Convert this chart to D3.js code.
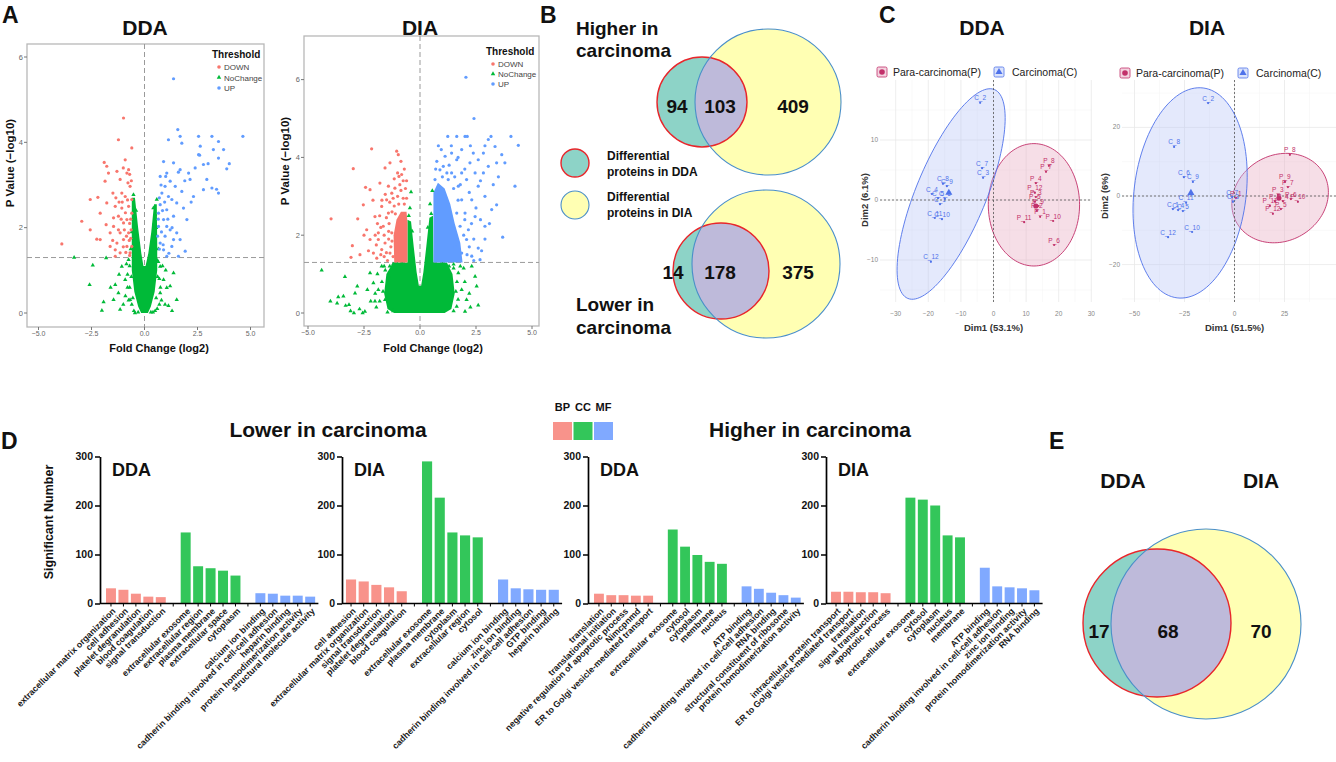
<!DOCTYPE html>
<html>
<head>
<meta charset="utf-8">
<script src="https://cdn.jsdelivr.net/npm/d3@7"></script>
<style>
body { margin: 0; background: #fff; }
svg { font-family: "Liberation Sans", Arial, sans-serif; }
</style>
</head>
<body>
<svg id="fig" width="1336" height="762"></svg>
<script>
// ---------- panel A : volcano data (fold change log2, -log10 p) ----------
const ddaDown = [[-3.9,1.62],[-2.96,2.15],[-2.56,2.66],[-2.56,1.95],[-2.25,1.73],[-2.09,1.72],[-2.2,2.71],[-1.9,3.53],[-1.78,3.44],[-1.86,3.09],[-1.7,3.28],[-2.09,2.34],[-1.78,2.58],[-1.81,2.07],[-1.62,1.88],[-1.62,1.56],[-1.38,1.33],[-1.49,2.81],[-1.3,3.32],[-1.23,4.06],[-0.99,4.57],[-0.91,3.59],[-0.75,3.36],[-0.6,3.87],[-1.15,3.13],[-1.38,2.5],[-1.23,2.27],[-1.46,2.03],[-1.15,1.88],[-0.99,1.72],[-0.83,1.56],[-1.15,1.41],[-0.68,1.41],[-0.91,2.73],[-0.68,2.97],[-0.75,2.5],[-1.07,2.46],[-0.83,2.19],[-0.63,1.95],[-1.3,1.64],[-0.75,1.88],[-0.6,2.34],[-1.07,2.81],[-1.46,2.23],[-0.6,1.56],[-0.99,2.11],[-1.23,1.95],[-0.83,3.28],[-0.6,2.66],[-1.38,1.48],[-0.7,2.1],[-0.9,2.35],[-1.0,1.55],[-0.72,1.7],[-0.65,2.2],[-0.8,2.65],[-1.1,2.2],[-0.95,1.95],[-0.7,1.35],[-0.88,1.42],[-1.05,2.6],[-0.62,3.1],[-0.7,3.25],[-1.2,2.6],[-0.65,1.75],[-0.85,1.8],[-1.35,2.7],[-1.5,1.7],[-0.78,3.05],[-1.0,3.4]];
const ddaUp = [[1.37,5.49],[1.57,4.3],[1.68,4.14],[1.13,4.06],[1.76,3.98],[2.55,4.14],[3.18,4.14],[4.64,4.14],[2.63,3.91],[3.49,4.02],[3.73,3.83],[2.55,3.71],[3.25,3.83],[3.49,3.63],[3.88,3.38],[3.49,2.81],[3.18,2.93],[2.78,2.89],[2.31,2.73],[2.08,3.28],[1.68,3.36],[1.37,3.52],[0.9,3.55],[0.74,3.2],[1.05,3.28],[1.21,3.09],[0.97,2.97],[1.45,2.97],[1.76,2.85],[0.82,2.81],[1.13,2.73],[1.52,2.58],[0.74,2.54],[1.05,2.42],[1.37,2.27],[0.9,2.19],[0.66,2.03],[1.21,1.95],[1.52,1.88],[0.97,1.8],[0.74,1.64],[1.29,1.56],[1.68,1.72],[1.92,1.45],[1.05,1.33],[1.6,1.33],[2.0,2.19],[1.84,2.46],[2.15,3.13],[2.94,3.13],[2.39,3.4],[2.78,3.48],[0.9,1.48],[1.37,1.72],[0.66,2.34],[1.05,2.03],[1.29,2.66],[0.7,1.5],[0.8,1.9],[0.65,2.2],[0.85,2.4],[0.7,2.7],[0.95,2.6],[1.1,2.2],[0.88,1.6],[1.15,1.4],[0.62,1.8],[1.3,2.0],[0.78,3.0],[1.0,3.2],[1.6,3.3],[1.9,3.1],[2.6,3.7],[3.0,3.5],[3.4,2.9],[2.2,2.6],[4.0,3.5]];
const ddaNoChange = [[-3.32,1.3],[-2.44,1.12],[-2.59,0.66],[-2.01,0.06],[-1.93,0.26],[-1.81,1.29],[-1.38,0.66],[-1.23,0.47],[-0.91,0.78],[-1.07,1.09],[-0.75,1.25],[-0.68,0.31],[-1.46,0.31],[-1.15,0.08],[0.9,0.78],[1.05,0.59],[1.21,0.63],[0.97,0.2],[1.13,0.17],[0.74,1.09],[0.58,1.25],[1.52,0.31],[0.74,0.47],[1.37,0.94],[-0.52,2.77],[0.58,2.66],[0.42,2.46],[-0.8,0.9],[-0.7,0.6],[-0.9,0.4],[-0.6,0.2],[0.7,0.8],[0.8,0.3],[0.6,0.1],[-1.0,0.2],[-0.85,1.15],[0.85,1.1],[-0.6,1.9],[-0.55,2.2],[0.55,2.0],[0.5,2.3],[-0.45,0.0],[0.4,0.02],[1.3,0.05],[-1.6,0.6],[-1.2,0.9],[1.0,1.0],[-0.75,0.3],[-0.7,1.1],[-0.8,0.6],[0.75,0.6],[0.7,0.2],[0.65,1.2],[-0.5,0.05],[0.5,0.05],[-0.65,1.5],[0.65,1.5],[-0.4,2.4],[0.45,2.1],[-0.62,0.85],[0.62,0.85],[-0.55,0.35],[0.55,0.35],[-0.3,0.02],[0.3,0.02]];
// outline of the solid mass of overlapping NoChange points
const ddaNoChangeCore = [[-0.6,2.7],[-0.45,2.7],[-0.3,2.0],[-0.15,1.4],[-0.05,1.1],[0.05,1.1],[0.18,1.4],[0.32,1.9],[0.45,2.55],[0.58,2.55],[0.6,1.6],[0.6,1.0],[0.48,0.5],[0.3,0.15],[0.16,0],[-0.16,0],[-0.3,0.15],[-0.48,0.5],[-0.6,1.0],[-0.6,1.6]];

const diaDown = [[-2.16,4.22],[-2.98,3.71],[-3.97,2.42],[-3.02,1.73],[-3.08,1.43],[-2.78,2.42],[-2.43,3.23],[-2.23,3.17],[-2.53,2.78],[-2.68,1.5],[-2.38,2.14],[-2.23,1.89],[-2.01,2.48],[-1.86,2.06],[-2.08,1.54],[-1.79,3.34],[-1.56,3.73],[-1.34,3.86],[-1.04,4.16],[-0.97,4.07],[-0.85,3.9],[-0.94,3.51],[-0.82,3.56],[-1.41,3.26],[-1.26,3.08],[-1.12,3.21],[-1.49,2.91],[-1.71,2.74],[-1.64,2.23],[-1.71,1.63],[-1.93,1.41],[-1.41,2.57],[-1.86,1.89],[-1.56,1.8],[-1.26,2.06],[-1.34,1.54],[-1.45,1.35],[-1.6,2.0],[-1.35,2.85],[-1.2,2.95],[-1.0,3.0],[-0.75,2.95],[-0.65,3.2],[-0.9,3.3],[-1.15,2.75],[-1.5,2.45],[-1.75,2.2],[-1.95,1.75],[-2.3,1.6],[-2.5,2.0],[-1.4,1.9],[-1.3,1.7],[-1.38,2.3],[-1.8,2.5],[-2.1,2.9],[-0.7,3.7],[-1.25,2.6],[-1.4,2.1],[-1.5,1.55],[-1.6,1.45],[-1.2,1.45],[-1.25,1.85],[-1.1,2.55],[-0.95,2.8],[-0.7,2.8],[-0.6,2.95],[-0.85,3.15],[-1.0,3.6],[-1.15,3.45],[-0.6,3.4],[-1.7,2.9],[-1.9,2.3],[-1.75,1.5],[-2.0,2.0],[-1.55,3.05],[-0.75,3.4]];
const diaDownCore = [[-1.15,1.3],[-1.18,2.0],[-1.05,2.4],[-0.85,2.6],[-0.6,2.6],[-0.56,2.3],[-0.56,1.3]];
const diaUp = [[2.05,6.06],[2.41,5.0],[0.82,4.3],[1.24,4.54],[1.64,4.54],[2.01,4.54],[2.11,4.54],[3.17,4.54],[4.06,4.54],[4.39,4.31],[4.24,3.26],[3.69,1.95],[3.65,4.07],[3.42,3.86],[3.27,3.3],[3.42,2.78],[3.2,2.66],[2.9,2.23],[2.68,1.37],[2.6,1.67],[2.16,2.14],[2.46,2.48],[2.31,2.91],[2.6,3.26],[2.83,3.6],[3.05,3.77],[2.38,4.11],[1.86,4.2],[1.41,4.11],[1.64,3.94],[1.12,4.03],[1.04,3.77],[2.23,3.86],[2.6,3.94],[2.83,4.11],[2.46,3.6],[1.86,3.6],[2.08,3.43],[1.71,3.26],[1.86,2.91],[1.64,2.57],[2.01,2.57],[1.79,2.23],[2.08,1.89],[1.86,1.54],[2.31,1.46],[1.56,1.71],[1.41,3.6],[3.05,4.46],[3.35,4.28],[3.79,3.86],[2.9,3.0],[1.26,3.43],[0.89,3.68],[0.67,3.43],[1.95,2.0],[2.2,1.7],[2.4,1.9],[2.0,2.4],[2.3,2.3],[1.7,2.9],[1.5,3.2],[1.2,3.6],[1.0,3.5],[0.7,3.7],[0.75,3.9],[0.95,4.2],[1.3,3.8],[1.55,3.5],[1.8,3.3],[2.2,3.1],[2.5,2.7],[2.7,2.4],[2.1,1.5],[2.4,1.35],[2.75,1.6],[2.9,1.9],[3.1,2.3],[3.5,3.5],[2.7,3.4],[2.0,3.7],[1.7,4.0],[1.4,4.3],[2.25,4.3],[2.9,4.3]];
const diaUpCore = [[0.6,1.3],[0.6,3.1],[0.8,3.35],[1.1,3.2],[1.35,2.8],[1.55,2.3],[1.8,1.8],[1.9,1.3]];
const diaNoChange = [[-4.39,1.1],[-3.35,0.93],[-3.65,0.41],[-3.42,0.43],[-3.32,0.19],[-3.17,0.21],[-2.95,0],[-2.8,0.69],[-2.9,0.51],[-2.46,0.04],[-2.23,1.03],[-2.08,0.77],[-2.01,0.3],[-1.86,0.6],[-1.71,1.2],[-1.41,0.94],[-1.56,0.34],[-2.56,0],[2.53,0.69],[2.46,0.94],[2.31,1.2],[2.01,0.04],[2.08,0.34],[1.86,0.6],[1.71,1.03],[1.64,0.17],[-0.4,3.11],[0.55,3.14],[-1.9,1.0],[-2.0,0.5],[-1.95,0.15],[-2.2,0.3],[-2.35,0.6],[2.0,0.8],[2.2,0.5],[1.95,1.15],[2.25,0.15],[-1.2,1.25],[1.5,1.25],[-0.45,2.7],[0.45,2.8],[-2.7,0.1],[-3.1,0.05],[2.6,0.2],[-4.0,0.3],[-3.7,0.25],[-1.6,1.2],[1.8,1.2],[-1.7,0.8],[-1.8,0.3],[-1.55,1.1],[-1.35,1.2],[1.5,1.15],[1.65,0.8],[1.7,0.35],[1.5,0.05],[-1.45,0.02],[-1.2,0.05],[0.5,2.55],[-0.5,2.5],[-0.35,2.1],[0.35,2.2],[-0.8,1.25],[1.0,1.25],[1.3,1.2],[-1.0,1.25],[-1.65,0.55],[1.6,0.55]];
const diaNoChangeCore = [[-0.56,2.4],[-0.4,2.35],[-0.28,1.7],[-0.15,1.05],[-0.05,0.7],[0.05,0.7],[0.15,1.05],[0.28,1.7],[0.42,2.45],[0.58,2.5],[0.6,1.3],[1.2,1.3],[1.45,1.0],[1.55,0.5],[1.4,0.1],[1.1,0],[-1.15,0],[-1.45,0.1],[-1.6,0.5],[-1.5,1.0],[-1.2,1.3],[-0.56,1.3]];

const volcanoTicksX = [-5, -2.5, 0, 2.5, 5];
const volcanoTicksY = [0, 2, 4, 6];
const pThreshold = 1.3;
const thresholdNames = ["DOWN", "NoChange", "UP"];

// ---------- panel B / E : venn counts [only DDA, both, only DIA] ----------
const vennHigher = [94, 103, 409];
const vennLower = [14, 178, 375];
const vennGO = [17, 68, 70];

// ---------- panel C : PCA scores ----------
const ddaPara = [["P_8",17.0,5.7],["P_7",16.1,4.7],["P_4",13.0,2.8],["P_12",12.7,1.2],["P_3",13.0,0.5],["P_5",12.7,-0.3],["P_9",13.7,-1.0],["P_2",13.3,-1.8],["P_1",14.3,-2.8],["P_11",9.4,-3.7],["P_10",18.3,-3.5],["P_6",18.6,-7.5]];
const ddaCarc = [["C_2",-4.1,16.2],["C_7",-3.5,5.3],["C_3",-3.2,3.7],["C_9",-14.3,2.3],["C_8",-15.5,2.7],["C_4",-18.9,1.0],["C_5",-17.0,0.3],["C_6",-14.9,0.2],["C_1",-16.4,-0.7],["C_11",-18.0,-3.0],["C_10",-15.8,-3.2],["C_12",-19.2,-10.3]];
const ddaCentroids = [[13.0,-1.0],[-13.7,1.2]];
const diaPara = [["P_8",27.7,12.0],["P_9",25.2,4.1],["P_7",26.7,2.6],["P_3",21.7,0.3],["P_2",20.2,-1.5],["P_4",24.2,-1.5],["P_6",28.2,-0.9],["P_10",31.7,-1.7],["P_5",23.2,-3.8],["P_11",17.7,-2.9],["P_12",19.2,-5.2],["P_1",0.7,-0.6]];
const diaCarc = [["C_2",-13.2,27.1],["C_8",-30.2,14.3],["C_6",-25.3,5.5],["C_9",-20.8,4.1],["C_11",-24.2,-2.0],["C_1",-30.8,-3.8],["C_4",-28.2,-4.1],["C_5",-25.8,-4.4],["C_10",-21.2,-10.5],["C_12",-33.2,-12.0],["C_7",-1.2,-0.3],["C_3",-0.8,-1.7]];
const diaCentroids = [[22.2,-0.6],[-21.8,0.9]];
// confidence ellipses: centre, first and second semi-axis vectors (data units)
const ddaEllipses = [{c:[12.4,-0.8], a:[14,0], b:[0,10.2]}, {c:[-13,1], a:[13.3,17.4], b:[9.9,-2.25]}];
const diaEllipses = [{c:[22.8,-0.6], a:[22.6,6.15], b:[8.5,-11.5]}, {c:[-22.2,0.9], a:[6.5,30.6], b:[27.8,-2.0]}];
const groupNames = ["Para-carcinoma(P)", "Carcinoma(C)"];

// ---------- panel D : GO terms ----------
const goCategories = ["BP", "CC", "MF"];
const goTicks = [0, 100, 200, 300];
const lowerDdaTerms = ["extracellular matrix organization","cell adhesion","platelet degranulation","blood coagulation","signal transduction",
  "extracellular exosome","extracellular region","plasma membrane","extracellular space","cytoplasm",
  "calcium ion binding","cadherin binding involved in cell-cell adhesion","heparin binding","protein homodimerization activity","structural molecule activity"];
const lowerDdaCounts = [31,28,20,14,13, 145,76,72,67,57, 21,20,16,16,14];
const lowerDiaTerms = ["cell adhesion","extracellular matrix organization","signal transduction","platelet degranulation","blood coagulation",
  "extracellular exosome","plasma membrane","cytoplasm","extracellular region","cytosol",
  "calcium ion binding","zinc ion binding","cadherin binding involved in cell-cell adhesion","GTP binding","heparin binding"];
const lowerDiaCounts = [49,45,38,33,25, 290,216,145,139,135, 49,31,29,28,28];
const higherDdaTerms = ["translation","translational initiation","negative regulation of apoptotic process","Nimcpnmd","ER to Golgi vesicle-mediated transport",
  "extracellular exosome","cytosol","cytoplasm","membrane","nucleus",
  "ATP binding","cadherin binding involved in cell-cell adhesion","RNA binding","structural constituent of ribosome","protein homodimerization activity"];
const higherDdaCounts = [20,17,17,16,16, 151,116,99,85,81, 35,30,22,17,12];
const higherDiaTerms = ["intracellular protein transport","ER to Golgi vesicle-mediated transport","translation","signal transduction","apoptotic process",
  "extracellular exosome","cytosol","cytoplasm","nucleus","membrane",
  "ATP binding","cadherin binding involved in cell-cell adhesion","zinc ion binding","protein homodimerization activity","RNA binding"];
const higherDiaCounts = [24,24,23,23,21, 216,212,200,139,135, 73,35,33,31,27];

const RED = "#F8766D", GREEN = "#00BA38", BLUE = "#619CFF";
const goColors = ["#F8938B", "#33C65A", "#80A9FF"];
const PINK = "#c2306a", PBLUE = "#4f72ea";

const svg = d3.select("#fig");

function bold(sel, size){
    return sel.attr("font-weight", "bold").attr("font-size", size + "px").attr("fill", "#111");
}

function panelLetter(letter, x, y){
    bold(svg.append("text"), 23).attr("x", x).attr("y", y).text(letter);
}

// ---------------- volcano ----------------
function volcano(o){
    const g = svg.append("g");
    const x = d3.scaleLinear().domain([-5, 5]).range(o.xr);
    const y = d3.scaleLinear().domain([0, 6]).range(o.yr);
    const [bx0, by0, bx1, by1] = o.box;

    g.append("rect").attr("x", bx0).attr("y", by0).attr("width", bx1 - bx0).attr("height", by1 - by0)
        .attr("fill", "#fff").attr("stroke", "#b8b8b8").attr("stroke-width", 1.3);

    g.append("line").attr("x1", bx0).attr("x2", bx1).attr("y1", y(pThreshold)).attr("y2", y(pThreshold))
        .attr("stroke", "#9a9a9a").attr("stroke-dasharray", "5,3").attr("stroke-width", 1);
    g.append("line").attr("x1", x(0)).attr("x2", x(0)).attr("y1", by0).attr("y2", by1)
        .attr("stroke", "#9a9a9a").attr("stroke-dasharray", "5,3").attr("stroke-width", 1);

    const area = d3.line().x(d => x(d[0])).y(d => y(d[1])).curve(d3.curveLinearClosed);
    g.append("path").attr("d", area(o.ncCore)).attr("fill", GREEN);
    if (o.downCore) g.append("path").attr("d", area(o.downCore)).attr("fill", RED);
    if (o.upCore) g.append("path").attr("d", area(o.upCore)).attr("fill", BLUE);

    g.selectAll(null).data(o.nc).enter().append("path")
        .attr("d", d3.symbol(d3.symbolTriangle, 8))
        .attr("transform", d => `translate(${x(d[0])},${y(d[1])})`)
        .attr("fill", GREEN);
    g.selectAll(null).data(o.down).enter().append("circle")
        .attr("cx", d => x(d[0])).attr("cy", d => y(d[1])).attr("r", 1.6).attr("fill", RED);
    g.selectAll(null).data(o.up).enter().append("circle")
        .attr("cx", d => x(d[0])).attr("cy", d => y(d[1])).attr("r", 1.6).attr("fill", BLUE);

    volcanoTicksX.forEach(t => {
        g.append("line").attr("x1", x(t)).attr("x2", x(t)).attr("y1", by1).attr("y2", by1 + 3).attr("stroke", "#777");
        g.append("text").attr("x", x(t)).attr("y", by1 + 9).attr("text-anchor", "middle")
            .attr("font-size", "7px").attr("fill", "#666").text(t.toFixed(1).replace("-", "\u2212"));
    });
    volcanoTicksY.forEach(t => {
        g.append("line").attr("x1", bx0 - 3).attr("x2", bx0).attr("y1", y(t)).attr("y2", y(t)).attr("stroke", "#777");
        g.append("text").attr("x", bx0 - 4).attr("y", y(t) + 2.5).attr("text-anchor", "end")
            .attr("font-size", "7.5px").attr("fill", "#666").text(t);
    });

    bold(g.append("text"), 21).attr("x", o.titleX).attr("y", 35).attr("text-anchor", "middle").text(o.title);
    bold(g.append("text"), 11).attr("x", o.xLabelX).attr("y", 352).attr("text-anchor", "middle").text("Fold Change (log2)");
    bold(g.append("text"), 11.5).attr("transform", `translate(${o.yLabelX},${o.yLabelY}) rotate(-90)`)
        .attr("text-anchor", "middle").text("P Value (\u2212log10)");

    // legend
    const lx = o.legend[0], ly = o.legend[1];
    bold(g.append("text"), 10).attr("x", lx).attr("y", ly + 3.5).text("Threshold");
    const cols = [RED, GREEN, BLUE];
    thresholdNames.forEach((nm, i) => {
        const yy = ly + 13 + i * o.legendStep;
        if (i === 1) {
            g.append("path").attr("d", d3.symbol(d3.symbolTriangle, 9)).attr("transform", `translate(${lx + 7},${yy})`).attr("fill", cols[i]);
        } else {
            g.append("circle").attr("cx", lx + 7).attr("cy", yy).attr("r", 1.8).attr("fill", cols[i]);
        }
        g.append("text").attr("x", lx + 12).attr("y", yy + 3).attr("font-size", "8px").attr("fill", "#444").text(nm);
    });
}

// ---------------- venn ----------------
function venn(o){
    const g = svg.append("g");
    const clipId = "clip" + o.id;
    g.append("clipPath").attr("id", clipId).append("circle")
        .attr("cx", o.dia[0]).attr("cy", o.dia[1]).attr("r", o.dia[2]);
    g.append("circle").attr("cx", o.dia[0]).attr("cy", o.dia[1]).attr("r", o.dia[2]).attr("fill", "#ffffb3");
    g.append("circle").attr("cx", o.dda[0]).attr("cy", o.dda[1]).attr("r", o.dda[2]).attr("fill", "#8dd3c7");
    g.append("circle").attr("cx", o.dda[0]).attr("cy", o.dda[1]).attr("r", o.dda[2]).attr("fill", "#bebada")
        .attr("clip-path", `url(#${clipId})`);
    g.append("circle").attr("cx", o.dda[0]).attr("cy", o.dda[1]).attr("r", o.dda[2]).attr("fill", "none")
        .attr("stroke", "#e8262b").attr("stroke-width", 1.4);
    g.append("circle").attr("cx", o.dia[0]).attr("cy", o.dia[1]).attr("r", o.dia[2]).attr("fill", "none")
        .attr("stroke", "#4a8fc9").attr("stroke-width", 1.1);
    o.counts.forEach((c, i) => {
        bold(g.append("text"), 19).attr("x", o.labelX[i]).attr("y", o.labelY).attr("text-anchor", "middle").text(c);
    });
}

// ---------------- PCA ----------------
function pca(o){
    const g = svg.append("g");
    const x = d3.scaleLinear().domain(o.xd).range(o.xr);
    const y = d3.scaleLinear().domain(o.yd).range(o.yr);
    const [px0, py0, px1, py1] = o.panel;

    o.xMinor.forEach(t => g.append("line").attr("x1", x(t)).attr("x2", x(t)).attr("y1", py0).attr("y2", py1).attr("stroke", "#f2f2f2").attr("stroke-width", 0.5));
    o.yMinor.forEach(t => g.append("line").attr("x1", px0).attr("x2", px1).attr("y1", y(t)).attr("y2", y(t)).attr("stroke", "#f2f2f2").attr("stroke-width", 0.5));
    o.xTicks.forEach(t => g.append("line").attr("x1", x(t)).attr("x2", x(t)).attr("y1", py0).attr("y2", py1).attr("stroke", "#e8e8e8").attr("stroke-width", 0.8));
    o.yTicks.forEach(t => g.append("line").attr("x1", px0).attr("x2", px1).attr("y1", y(t)).attr("y2", y(t)).attr("stroke", "#e8e8e8").attr("stroke-width", 0.8));

    const cols = [PINK, PBLUE];
    const fills = ["#e7a9c0", "#b7c6f6"];
    const ell = d3.line().x(d => x(d[0])).y(d => y(d[1])).curve(d3.curveLinearClosed);
    o.ellipses.forEach((e, k) => {
        const pts = d3.range(0, 2 * Math.PI, Math.PI / 60).map(t =>
            [e.c[0] + Math.cos(t) * e.a[0] + Math.sin(t) * e.b[0], e.c[1] + Math.cos(t) * e.a[1] + Math.sin(t) * e.b[1]]);
        g.append("path").attr("d", ell(pts)).attr("fill", fills[k]).attr("fill-opacity", 0.38)
            .attr("stroke", cols[k]).attr("stroke-width", 0.9);
    });

    g.append("line").attr("x1", x(0)).attr("x2", x(0)).attr("y1", py0).attr("y2", py1).attr("stroke", "#555").attr("stroke-dasharray", "2,2").attr("stroke-width", 0.8);
    g.append("line").attr("x1", px0).attr("x2", px1).attr("y1", y(0)).attr("y2", y(0)).attr("stroke", "#555").attr("stroke-dasharray", "2,2").attr("stroke-width", 0.8);

    [o.para, o.carc].forEach((grp, k) => {
        g.selectAll(null).data(grp).enter().append("circle")
            .attr("cx", d => x(d[1])).attr("cy", d => y(d[2])).attr("r", 1.1).attr("fill", cols[k]);
        g.selectAll(null).data(grp).enter().append("text")
            .attr("x", d => x(d[1])).attr("y", d => y(d[2]) - 2.5).attr("text-anchor", "middle")
            .attr("font-size", "6.5px").attr("fill", cols[k]).text(d => d[0]);
    });
    g.append("circle").attr("cx", x(o.centroids[0][0])).attr("cy", y(o.centroids[0][1])).attr("r", 2.6).attr("fill", PINK);
    g.append("path").attr("d", d3.symbol(d3.symbolTriangle, 22))
        .attr("transform", `translate(${x(o.centroids[1][0])},${y(o.centroids[1][1])})`).attr("fill", PBLUE);

    o.xTicks.forEach(t => g.append("text").attr("x", x(t)).attr("y", 316).attr("text-anchor", "middle")
        .attr("font-size", "6.5px").attr("fill", "#888").text(String(t).replace("-", "\u2212")));
    o.yTicks.forEach(t => g.append("text").attr("x", px0 - 2).attr("y", y(t) + 2).attr("text-anchor", "end")
        .attr("font-size", "6.5px").attr("fill", "#888").text(String(t).replace("-", "\u2212")));

    bold(g.append("text"), 9.5).attr("x", x(0)).attr("y", 331).attr("text-anchor", "middle").attr("fill", "#333").text(o.xLabel);
    bold(g.append("text"), 9.5).attr("transform", `translate(${o.yLabelX},${y(0)}) rotate(-90)`).attr("text-anchor", "middle").attr("fill", "#333").text(o.yLabel);
    bold(g.append("text"), 21).attr("x", o.titleX).attr("y", 35).attr("text-anchor", "middle").text(o.title);

    // legend
    const [l1, l2, ly] = o.legend;
    g.append("rect").attr("x", l1 - 5).attr("y", ly - 5).attr("width", 10).attr("height", 10).attr("rx", 1.5)
        .attr("fill", "#f3d3df").attr("stroke", PINK).attr("stroke-width", 0.8);
    g.append("circle").attr("cx", l1).attr("cy", ly).attr("r", 2.8).attr("fill", PINK);
    g.append("text").attr("x", l1 + 11).attr("y", ly + 4).attr("font-size", "10.5px").attr("fill", "#222").text(groupNames[0]);
    g.append("rect").attr("x", l2 - 5).attr("y", ly - 5).attr("width", 10).attr("height", 10).attr("rx", 1.5)
        .attr("fill", "#dbe3fb").attr("stroke", PBLUE).attr("stroke-width", 0.8);
    g.append("path").attr("d", d3.symbol(d3.symbolTriangle, 22)).attr("transform", `translate(${l2},${ly})`).attr("fill", PBLUE);
    g.append("text").attr("x", l2 + 13).attr("y", ly + 4).attr("font-size", "10.5px").attr("fill", "#222").text(groupNames[1]);
}

// ---------------- GO bar chart ----------------
function goChart(o){
    const g = svg.append("g");
    const y = d3.scaleLinear().domain([0, 300]).range([603.5, 456.5]);
    const x = d3.scaleBand().domain(d3.range(17)).range([o.r0, o.r1]).paddingInner(0.2).paddingOuter(0.1);
    const slot = i => i + Math.floor(i / 5);

    g.selectAll(null).data(o.counts).enter().append("rect")
        .attr("x", (d, i) => x(slot(i))).attr("width", x.bandwidth())
        .attr("y", d => y(d)).attr("height", d => y(0) - y(d))
        .attr("fill", (d, i) => goColors[Math.floor(i / 5)]);

    const ax = g.append("g").attr("transform", `translate(${o.axisX},0)`)
        .call(d3.axisLeft(y).tickValues(goTicks).tickSize(5).tickSizeOuter(0).tickPadding(2));
    ax.select(".domain").attr("stroke-width", 1.7);
    ax.selectAll(".tick line").attr("stroke-width", 1.5);
    ax.selectAll(".tick text").attr("font-size", "10.5px").attr("font-weight", "bold").attr("fill", "#111")
        .attr("font-family", "Liberation Sans, Arial, sans-serif");

    g.append("line").attr("x1", o.axisX).attr("x2", o.r1 + 2).attr("y1", y(0)).attr("y2", y(0))
        .attr("stroke", "#000").attr("stroke-width", 1.7);
    g.selectAll(null).data(d3.range(17)).enter().append("line")
        .attr("x1", d => x(d) + x.bandwidth() / 2).attr("x2", d => x(d) + x.bandwidth() / 2)
        .attr("y1", y(0)).attr("y2", y(0) + 3).attr("stroke", "#000").attr("stroke-width", 1);

    g.selectAll(null).data(o.terms).enter().append("text")
        .attr("transform", (d, i) => `translate(${x(slot(i)) + x.bandwidth() / 2 + 3},${y(0) + 6}) rotate(-45)`)
        .attr("text-anchor", "end").attr("dy", "0.35em")
        .attr("font-size", "8.8px").attr("font-weight", "bold").attr("fill", "#1a1a1a")
        .text(d => d);

    bold(g.append("text"), 18).attr("x", o.axisX + 12).attr("y", 476).text(o.title);
}

// ================= draw =================
panelLetter("A", 2, 23);
volcano({xr: [38.5, 250.5], yr: [313, 57], box: [27, 44, 264, 327], title: "DDA", titleX: 145,
    xLabelX: 159, yLabelX: 14, yLabelY: 163, legend: [212, 54], legendStep: 10.5,
    down: ddaDown, up: ddaUp, nc: ddaNoChange, ncCore: ddaNoChangeCore});
volcano({xr: [308, 532], yr: [313, 79.6], box: [304, 36, 539, 326], title: "DIA", titleX: 420,
    xLabelX: 433, yLabelX: 289, yLabelY: 161, legend: [486, 51], legendStep: 10,
    down: diaDown, up: diaUp, nc: diaNoChange, ncCore: diaNoChangeCore, downCore: diaDownCore, upCore: diaUpCore});

panelLetter("B", 540, 23);
bold(svg.append("text"), 19).attr("x", 576).attr("y", 35).text("Higher in");
bold(svg.append("text"), 19).attr("x", 576).attr("y", 57).text("carcinoma");
venn({id: "hi", dda: [702, 102, 45], dia: [768, 102, 73], counts: vennHigher, labelX: [677, 720, 793], labelY: 113});
venn({id: "lo", dda: [721, 271, 48], dia: [766, 264, 74], counts: vennLower, labelX: [673, 720, 798], labelY: 279});
bold(svg.append("text"), 19).attr("x", 576).attr("y", 311).text("Lower in");
bold(svg.append("text"), 19).attr("x", 576).attr("y", 334).text("carcinoma");
// venn legend
svg.append("circle").attr("cx", 575).attr("cy", 163).attr("r", 14).attr("fill", "#8dd3c7").attr("stroke", "#e8262b").attr("stroke-width", 1.4);
svg.append("circle").attr("cx", 575).attr("cy", 205).attr("r", 14).attr("fill", "#ffffb3").attr("stroke", "#4a8fc9").attr("stroke-width", 1.1);
[["Differential", 160], ["proteins in DDA", 176], ["Differential", 201], ["proteins in DIA", 217]].forEach(t => {
    bold(svg.append("text"), 12).attr("x", 607).attr("y", t[1]).text(t[0]);
});

panelLetter("C", 879, 23);
pca({xd: [-30, 30], xr: [895.7, 1091.3], yd: [-10, 10], yr: [260, 140], panel: [880, 80, 1092, 302],
    xTicks: [-30, -20, -10, 0, 10, 20, 30], yTicks: [-10, 0, 10], xMinor: [-25, -15, -5, 5, 15, 25], yMinor: [-15, -5, 5, 15],
    ellipses: ddaEllipses, para: ddaPara, carc: ddaCarc, centroids: ddaCentroids,
    xLabel: "Dim1 (53.1%)", yLabel: "Dim2 (6.1%)", yLabelX: 868, title: "DDA", titleX: 982, legend: [882, 999, 72]});
pca({xd: [-50, 25], xr: [1134.5, 1284.5], yd: [-20, 20], yr: [264.6, 127.4], panel: [1122, 80, 1336, 302],
    xTicks: [-50, -25, 0, 25], yTicks: [-20, 0, 20], xMinor: [-37.5, -12.5, 12.5, 37.5], yMinor: [-30, -10, 10, 30],
    ellipses: diaEllipses, para: diaPara, carc: diaCarc, centroids: diaCentroids,
    xLabel: "Dim1 (51.5%)", yLabel: "Dim2 (6%)", yLabelX: 1108, title: "DIA", titleX: 1207, legend: [1125, 1243, 73]});

panelLetter("D", 1, 449);
bold(svg.append("text"), 21).attr("x", 328).attr("y", 437).attr("text-anchor", "middle").text("Lower in carcinoma");
bold(svg.append("text"), 21).attr("x", 810).attr("y", 437).attr("text-anchor", "middle").text("Higher in carcinoma");
goCategories.forEach((c, i) => {
    bold(svg.append("text"), 11).attr("x", 562.5 + i * 20.5).attr("y", 411).attr("text-anchor", "middle").text(c);
    svg.append("rect").attr("x", 553 + i * 20.5).attr("y", 422).attr("width", 19).attr("height", 18).attr("fill", goColors[i]);
});
goChart({axisX: 100, r0: 104.75, r1: 316.4, terms: lowerDdaTerms, counts: lowerDdaCounts, title: "DDA"});
goChart({axisX: 342, r0: 344.7, r1: 560.1, terms: lowerDiaTerms, counts: lowerDiaCounts, title: "DIA"});
goChart({axisX: 588, r0: 592.8, r1: 801.9, terms: higherDdaTerms, counts: higherDdaCounts, title: "DDA"});
goChart({axisX: 826, r0: 829.8, r1: 1040.6, terms: higherDiaTerms, counts: higherDiaCounts, title: "DIA"});
bold(svg.append("text"), 12.5).attr("transform", "translate(53,522) rotate(-90)").attr("text-anchor", "middle").text("Significant Number");

panelLetter("E", 1049, 449);
bold(svg.append("text"), 21).attr("x", 1123).attr("y", 488).attr("text-anchor", "middle").text("DDA");
bold(svg.append("text"), 21).attr("x", 1261).attr("y", 488).attr("text-anchor", "middle").text("DIA");
venn({id: "go", dda: [1157, 623, 74], dia: [1206, 624, 95], counts: vennGO, labelX: [1099, 1168, 1261], labelY: 638});
</script>
</body>
</html>
